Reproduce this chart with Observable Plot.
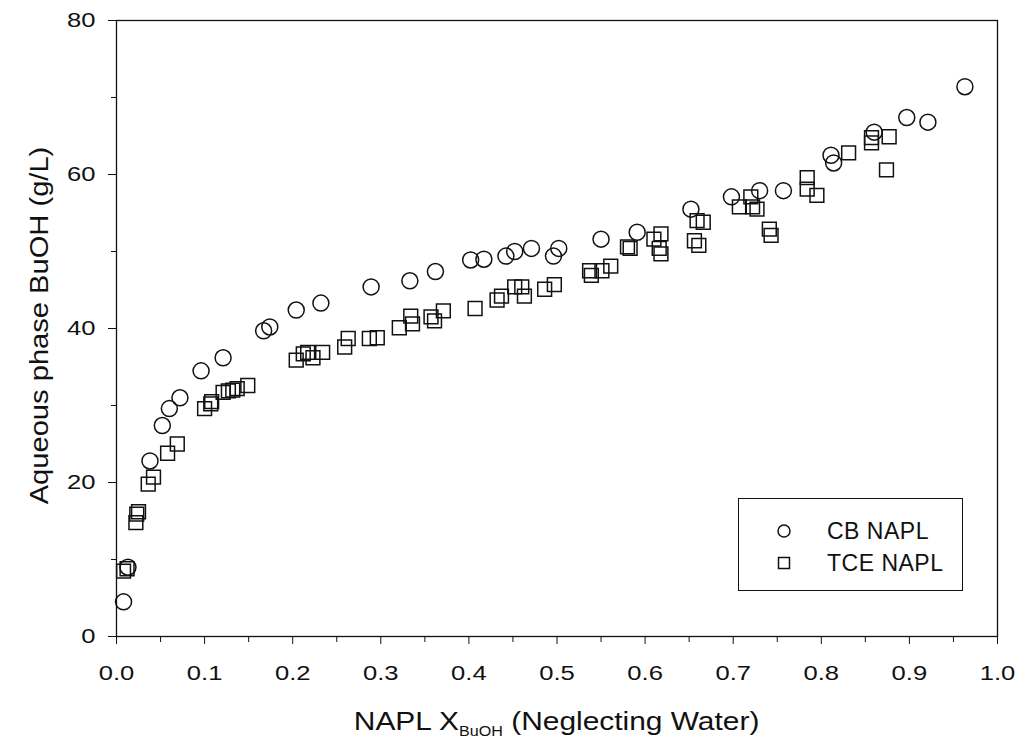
<!DOCTYPE html>
<html>
<head>
<meta charset="utf-8">
<script src="https://cdn.jsdelivr.net/npm/d3@7"></script>
<script src="https://cdn.jsdelivr.net/npm/@observablehq/plot@0.6"></script>
<style>
  html, body { margin: 0; padding: 0; background: #fff; }
  #wrap { position: relative; width: 1019px; height: 747px; font-family: "Liberation Sans", Arial, sans-serif; color: #111; }
  #xlabel { position: absolute; left: 116px; width: 881px; top: 708px; text-align: center; font-size: 26px; line-height: 1; transform: scaleX(1.15); transform-origin: 440px 0; }
  #xlabel sub { font-size: 14px; vertical-align: -6px; }
  #legend { position: absolute; left: 738px; top: 498px; width: 223px; height: 91px; border: 1.5px solid #111; background: #fff; }
  .lrow { position: absolute; left: 0; height: 30px; display: flex; align-items: center; font-size: 23px; letter-spacing: 0.5px; }
  .lrow svg { margin-left: 38px; margin-right: 36px; }
</style>
</head>
<body>
<div id="wrap">
  <div id="chart"></div>
  <div id="xlabel">NAPL X<sub>BuOH</sub> (Neglecting Water)</div>
  <div id="legend">
    <div class="lrow" style="top:17px"><svg width="14" height="14"><circle cx="7" cy="7" r="6" fill="none" stroke="#111" stroke-width="1.5"/></svg>CB NAPL</div>
    <div class="lrow" style="top:49px"><svg width="14" height="14"><rect x="1.5" y="1.5" width="11" height="11" fill="none" stroke="#111" stroke-width="1.5"/></svg>TCE NAPL</div>
  </div>
</div>
<script>
// CB NAPL (circles)
const cbX = [0.008,0.013,0.038,0.052,0.060,0.072,0.096,0.121,0.167,0.174,0.204,0.232,0.289,0.333,0.362,0.402,0.417,0.442,0.452,0.471,0.496,0.502,0.550,0.591,0.652,0.698,0.730,0.757,0.811,0.814,0.860,0.897,0.921,0.963];
const cbY = [4.5,9.0,22.8,27.4,29.6,31.0,34.5,36.2,39.7,40.2,42.4,43.3,45.4,46.2,47.4,48.9,49.0,49.4,50.0,50.4,49.4,50.4,51.6,52.5,55.5,57.1,57.9,57.9,62.5,61.5,65.5,67.4,66.8,71.4];
// TCE NAPL (squares)
const tceX = [0.008,0.012,0.022,0.023,0.025,0.036,0.042,0.058,0.069,0.100,0.107,0.108,0.121,0.127,0.132,0.137,0.149,0.204,0.212,0.217,0.223,0.234,0.259,0.263,0.287,0.296,0.321,0.334,0.336,0.357,0.361,0.371,0.407,0.432,0.437,0.452,0.460,0.463,0.486,0.497,0.537,0.539,0.551,0.561,0.580,0.583,0.610,0.618,0.616,0.618,0.656,0.661,0.659,0.666,0.707,0.720,0.722,0.727,0.741,0.743,0.784,0.784,0.795,0.831,0.857,0.857,0.877,0.874];
const tceY = [8.5,8.8,14.8,15.9,16.2,19.8,20.7,23.8,25.0,29.6,30.2,30.5,31.7,31.9,32.0,32.2,32.6,35.9,36.7,36.9,36.2,36.9,37.6,38.7,38.7,38.8,40.1,41.6,40.6,41.5,41.0,42.3,42.6,43.7,44.2,45.4,45.4,44.2,45.1,45.7,47.5,46.9,47.5,48.1,50.6,50.4,51.6,52.3,50.4,49.7,51.4,50.8,54.0,53.8,55.8,57.1,55.8,55.5,52.9,52.1,59.6,58.1,57.3,62.8,64.8,64.1,64.9,60.6];
const xMajor = [0,0.1,0.2,0.3,0.4,0.5,0.6,0.7,0.8,0.9,1.0];
const xMinor = [0.05,0.15,0.25,0.35,0.45,0.55,0.65,0.75,0.85,0.95];
const yMajor = [0,20,40,60,80];
const yMinor = [10,30,50,70];
const yLabel = "Aqueous phase BuOH (g/L)";

const cb = cbX.map((x, i) => ({x, y: cbY[i]}));
const tce = tceX.map((x, i) => ({x, y: tceY[i]}));
const ink = "#111";

const chart = Plot.plot({
  width: 1019,
  height: 747,
  marginLeft: 116,
  marginRight: 22,
  marginTop: 20,
  marginBottom: 111,
  style: {fontFamily: "Liberation Sans, Arial, sans-serif", color: ink, background: "#fff"},
  x: {domain: [0, 1]},
  y: {domain: [0, 80]},
  marks: [
    Plot.frame({stroke: ink, strokeWidth: 1.3}),
    Plot.axisX({ticks: xMajor, tickFormat: d3.format(".1f"), tickSize: 8, tickPadding: 21, fontSize: 21, label: null, stroke: ink}),
    Plot.axisX({ticks: xMinor, tickSize: 6, text: null, label: null, stroke: ink}),
    Plot.axisY({ticks: yMajor, tickSize: 8, tickPadding: 13, fontSize: 21, label: null, stroke: ink}),
    Plot.axisY({ticks: yMinor, tickSize: 5, text: null, label: null, stroke: ink}),
    Plot.text([yLabel], {text: d => d, frameAnchor: "left", textAnchor: "middle", rotate: -90, dx: -77, dy: -3, fontSize: 26, fill: ink}),
    Plot.dot(tce, {x: "x", y: "y", symbol: "square", r: 7.8, stroke: ink, strokeWidth: 1.5, fill: "none"}),
    Plot.dot(cb, {x: "x", y: "y", symbol: "circle", r: 8, stroke: ink, strokeWidth: 1.5, fill: "none"})
  ]
});
document.getElementById("chart").appendChild(chart);

// widen glyphs horizontally like the scanned original
const svg = d3.select(chart);
svg.selectAll('g[aria-label="x-axis tick label"] text, g[aria-label="y-axis tick label"] text')
  .attr("transform", function() { return (this.getAttribute("transform") || "") + " scale(1.22,1)"; });
svg.selectAll('g[aria-label="text"] text')
  .attr("transform", function() { return (this.getAttribute("transform") || "") + " scale(1.12,1)"; });
</script>
</body>
</html>
